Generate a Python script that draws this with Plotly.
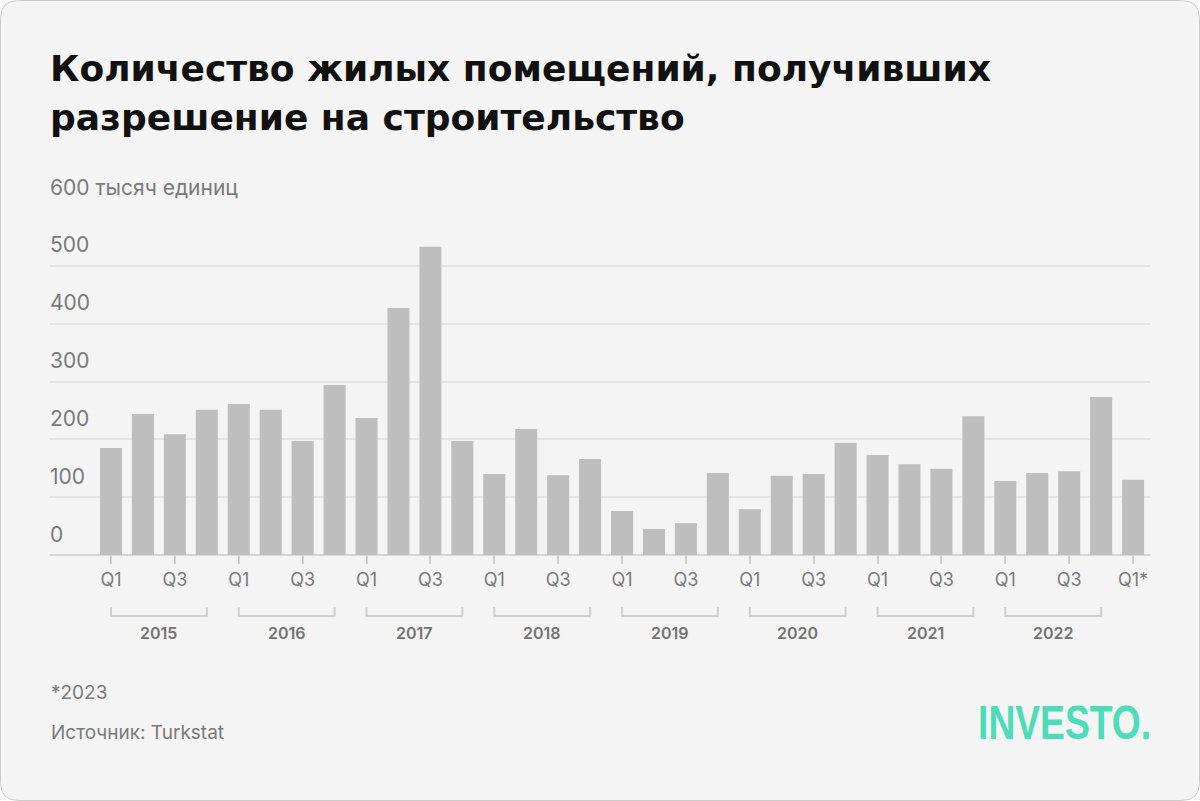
import plotly.graph_objects as go

# ---- data ----
quarters = ["Q1", "Q2", "Q3", "Q4"] * 8 + ["Q1*"]
years = [str(y) for y in range(2015, 2023)]
values = [185, 244, 209, 251,
          261, 251, 197, 294,
          237, 427, 533, 197,
          140, 218, 138, 166,
          76, 45, 55, 142,
          79, 137, 140, 194,
          173, 157, 149, 240,
          128, 142, 145, 273,
          130]
y_ticks = [0, 100, 200, 300, 400, 500]
y_top = 600
y_top_label = "600 тысяч единиц"
title_lines = ["Количество жилых помещений, получивших", "разрешение на строительство"]
note = "*2023"
source = "Источник: Turkstat"
logo = "INVESTO."

# ---- geometry ----
W, H = 1200, 801
L, R, T, B = 50, 50, 208, 246
PH = H - T - B
PW = W - L - R

def py(p):  # pixel y -> paper y
    return (H - B - p) / PH

def px(p):  # pixel x -> paper x
    return (p - L) / PW

x = list(range(len(values)))
tickvals = [i for i, q in enumerate(quarters) if q in ("Q1", "Q3", "Q1*")]
ticktext = [quarters[i] for i in tickvals]

fig = go.Figure()
fig.add_trace(go.Bar(x=x, y=values, marker=dict(color="#bebebe", line=dict(width=0)),
                     hoverinfo="skip"))

font_main = "Inter, Roboto, sans-serif"

def card_path(x0, y0, x1, y1, r):
    X = lambda v: px(v)
    Y = lambda v: py(v)
    return (f"M {X(x0+r)},{Y(y0)} L {X(x1-r)},{Y(y0)} Q {X(x1)},{Y(y0)} {X(x1)},{Y(y0+r)} "
            f"L {X(x1)},{Y(y1-r)} Q {X(x1)},{Y(y1)} {X(x1-r)},{Y(y1)} "
            f"L {X(x0+r)},{Y(y1)} Q {X(x0)},{Y(y1)} {X(x0)},{Y(y1-r)} "
            f"L {X(x0)},{Y(y0+r)} Q {X(x0)},{Y(y0)} {X(x0+r)},{Y(y0)} Z")

shapes = [dict(type="path", xref="paper", yref="paper", path=card_path(0.5, 0.5, 1199.5, 800.5, 18),
               fillcolor="#f4f4f4", line=dict(color="#cccccc", width=1), layer="below")]

for k, yr in enumerate(years):
    a, b = 4 * k, 4 * k + 3
    shapes.append(dict(type="path", xref="x", yref="paper",
                       path=f"M {a},{py(607)} L {a},{py(616)} L {b},{py(616)} L {b},{py(607)}",
                       line=dict(color="#cfcfcf", width=2)))

annotations = []
for k, yr in enumerate(years):
    annotations.append(dict(x=4 * k + 1.5, y=py(633), xref="x", yref="paper", text=yr,
                            showarrow=False, xanchor="center", yanchor="middle",
                            font=dict(family=font_main, size=16, color="#737373", weight=600)))

for v in y_ticks:
    annotations.append(dict(x=0, y=v, xref="paper", yref="y", text=str(v), showarrow=False,
                            xanchor="left", yanchor="middle", yshift=21, xshift=-2,
                            font=dict(family=font_main, size=21, color="#7a7a7a")))
annotations.append(dict(x=0, y=y_top, xref="paper", yref="y", text=y_top_label, showarrow=False,
                        xanchor="left", yanchor="middle", yshift=21, xshift=-2,
                        font=dict(family=font_main, size=21, color="#7a7a7a")))

for i, line in enumerate(title_lines):
    annotations.append(dict(x=px(48), y=py(68 + 49 * i), xref="paper", yref="paper", text=line,
                            showarrow=False, xanchor="left", yanchor="middle",
                            font=dict(family="'DejaVu Sans', sans-serif", size=36, color="#111111", weight=700)))

annotations.append(dict(x=px(49), y=py(692), xref="paper", yref="paper", text=note, showarrow=False,
                        xanchor="left", yanchor="middle",
                        font=dict(family=font_main, size=19, color="#7a7a7a")))
annotations.append(dict(x=px(49), y=py(732), xref="paper", yref="paper", text=source, showarrow=False,
                        xanchor="left", yanchor="middle",
                        font=dict(family=font_main, size=19, color="#7a7a7a")))
annotations.append(dict(x=px(1064.5), y=py(722), xref="paper", yref="paper", text=logo, showarrow=False,
                        xanchor="center", yanchor="middle",
                        font=dict(family="'Liberation Sans', Arial, sans-serif",
                                  size=48, color="#4ddcb8", weight=700)))

fig.update_layout(
    width=W, height=H,
    margin=dict(l=L, r=R, t=T, b=B, pad=0),
    paper_bgcolor="#ffffff",
    plot_bgcolor="rgba(0,0,0,0)",
    showlegend=False,
    bargap=0.31,
    shapes=shapes,
    annotations=annotations,
    xaxis=dict(range=[-1.91, 32.53], tickvals=tickvals, ticktext=ticktext,
               ticks="outside", ticklen=8, tickwidth=2, tickcolor="#cccccc",
               showgrid=False, zeroline=False, showline=False,
               tickfont=dict(family=font_main, size=18, color="#7a7a7a"),
               fixedrange=True),
    yaxis=dict(range=[0, 600], tickvals=y_ticks + [y_top], showticklabels=False,
               showgrid=True, gridcolor="#e4e4e4", gridwidth=2,
               zeroline=True, zerolinecolor="#d6d6d6", zerolinewidth=2,
               showline=False, fixedrange=True),
)

# condense the logo text horizontally (keeps it real text)
post = """
document.querySelectorAll('text.annotation-text').forEach(function(t){
  if (t.textContent === 'INVESTO.') {
    t.setAttribute('textLength', '173');
    t.setAttribute('lengthAdjust', 'spacingAndGlyphs');
  }
});
"""
fig.write_html("out.html", post_script=post)
